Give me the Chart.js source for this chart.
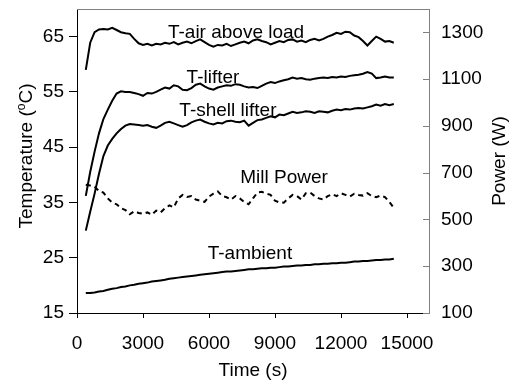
<!DOCTYPE html>
<html>
<head>
<meta charset="utf-8">
<script src="https://cdn.jsdelivr.net/npm/chart.js@4.4.0/dist/chart.umd.min.js"></script>
<style>
  html, body { margin: 0; padding: 0; background: #fff; }
  #wrap { width: 522px; height: 386px; }
</style>
</head>
<body>
<div id="wrap"><canvas id="chart" width="522" height="386"></canvas></div>
<script>
// time (s)
const times = [400, 600, 800, 1000, 1200, 1400, 1600, 1800, 2000, 2200, 2400, 2600, 2800, 3000,
  3200, 3400, 3600, 3800, 4000, 4200, 4400, 4600, 4800, 5000, 5200, 5400, 5600, 5800, 6000,
  6200, 6400, 6600, 6800, 7000, 7200, 7400, 7600, 7800, 8000, 8200, 8400, 8600, 8800, 9000,
  9200, 9400, 9600, 9800, 10000, 10200, 10400, 10600, 10800, 11000, 11200, 11400, 11600, 11800,
  12000, 12200, 12400, 12600, 12800, 13000, 13200, 13400, 13600, 13800, 14000, 14200, 14400];

// temperatures (C)
const tAirAboveLoad = [59.0, 63.9, 65.8, 66.3, 66.4, 66.3, 66.6, 66.2, 65.8, 65.6, 65.5, 64.6, 63.8, 63.5,
  63.7, 63.4, 63.7, 63.6, 63.9, 63.7, 64.0, 63.6, 63.9, 64.1, 63.8, 64.2, 64.5, 64.0, 63.5,
  63.2, 63.5, 63.4, 63.7, 63.3, 63.6, 63.9, 64.1, 63.8, 64.3, 64.5, 64.2, 64.0, 63.6, 63.9,
  64.2, 64.0, 64.4, 64.5, 64.1, 64.3, 64.0, 64.4, 64.6, 64.3, 64.6, 65.0, 65.3, 65.7,
  65.5, 65.9, 65.8, 65.2, 64.9, 64.2, 63.4, 64.2, 65.0, 64.6, 64.1, 64.2, 63.9];

const tLifter = [36.2, 40.5, 44.2, 47.5, 50.1, 51.8, 53.4, 54.7, 55.1, 55.0, 55.0, 54.8, 54.6, 54.3,
  54.8, 54.7, 55.0, 55.4, 55.8, 55.6, 56.2, 56.0, 55.4, 55.3, 55.7, 56.3, 56.5, 56.0, 55.6,
  55.4, 55.8, 56.0, 56.2, 56.1, 56.4, 56.3, 56.0, 55.8, 55.9, 55.7, 56.1, 56.5, 56.8, 56.6,
  56.9, 57.1, 57.3, 57.6, 57.4, 57.5, 57.3, 57.2, 57.4, 57.5, 57.6, 57.5, 57.7, 57.6,
  57.8, 57.7, 57.9, 58.0, 58.1, 58.3, 58.6, 58.3, 57.5, 57.6, 57.8, 57.6, 57.6];

const tShellLifter = [29.9, 33.3, 36.6, 40.2, 43.4, 45.3, 46.5, 47.5, 48.3, 48.9, 49.2, 49.1, 49.0, 48.9,
  49.0, 48.7, 48.5, 48.9, 49.4, 49.6, 49.3, 49.0, 48.7, 49.0, 49.5, 49.8, 50.0, 49.6, 49.3,
  49.1, 49.4, 49.3, 49.7, 49.8, 49.6, 49.5, 49.8, 48.9, 49.4, 49.9, 50.0, 50.3, 50.6, 50.4,
  50.9, 50.8, 51.1, 51.4, 51.2, 51.3, 51.5, 51.4, 51.2, 51.5, 51.4, 51.3, 51.6, 51.8,
  51.7, 51.9, 51.8, 52.0, 52.1, 52.0, 52.2, 52.4, 52.7, 52.5, 52.8, 52.6, 52.8];

const tAmbient = [18.6, 18.6, 18.7, 18.9, 19.0, 19.2, 19.4, 19.5, 19.7, 19.8, 20.0, 20.1, 20.3, 20.4,
  20.5, 20.7, 20.8, 20.9, 21.0, 21.2, 21.3, 21.4, 21.5, 21.6, 21.7, 21.8, 21.9, 22.0, 22.1,
  22.2, 22.3, 22.4, 22.5, 22.5, 22.6, 22.7, 22.8, 22.9, 22.9, 23.0, 23.1, 23.1, 23.2, 23.2,
  23.3, 23.4, 23.4, 23.5, 23.6, 23.6, 23.7, 23.7, 23.8, 23.8, 23.9, 23.9, 24.0, 24.0,
  24.1, 24.1, 24.2, 24.3, 24.3, 24.4, 24.4, 24.5, 24.6, 24.6, 24.7, 24.7, 24.8];

// mill power (W), right axis
const millPower = [648, 645, 640, 622, 615, 590, 572, 565, 548, 540, 522, 535, 528, 524,
  530, 520, 538, 530, 548, 560, 552, 590, 605, 596, 600, 585, 580, 575, 598,
  610, 620, 600, 595, 585, 600, 590, 575, 565, 590, 615, 618, 610, 605, 580,
  573, 572, 590, 605, 600, 585, 612, 615, 600, 590, 585, 600, 608, 600,
  612, 605, 598, 610, 605, 602, 612, 600, 595, 602, 596, 575, 550];

// tick values
const xTicks = [0, 3000, 6000, 9000, 12000, 15000];
const tempTicks = [15, 25, 35, 45, 55, 65];
const powerTicks = [100, 300, 500, 700, 900, 1100, 1300];

// in-plot labels: [text, time, temperature]
const seriesLabels = [
  ['T-air above load', 7230, 64.8],
  ['T-lifter', 6180, 56.7],
  ['T-shell lifter', 6860, 50.7],
  ['Mill Power', 9410, 38.55],
  ['T-ambient', 7860, 24.8]
];

const FONT = "'Liberation Sans', Arial, sans-serif";
const FSIZE = 19;

function pts(ys) {
  return times.map((t, i) => ({ x: t, y: ys[i] }));
}

function lineSet(ys, axis, dash) {
  return {
    data: pts(ys),
    yAxisID: axis,
    borderColor: '#000',
    borderWidth: 2,
    borderDash: dash || [],
    pointRadius: 0,
    tension: 0,
    fill: false
  };
}

const framePlugin = {
  id: 'frame',
  afterDraw(chart) {
    const ctx = chart.ctx;
    const a = chart.chartArea;
    const y2 = chart.scales.y2;
    ctx.save();
    ctx.strokeStyle = '#808080';
    ctx.lineWidth = 1;
    ctx.beginPath();
    ctx.moveTo(a.left, a.top + 0.5);
    ctx.lineTo(a.right + 0.5, a.top + 0.5);
    ctx.lineTo(a.right + 0.5, a.bottom);
    ctx.stroke();
    // inward ticks on the power axis
    ctx.beginPath();
    powerTicks.forEach(v => {
      const py = Math.round(y2.getPixelForValue(v)) + 0.5;
      ctx.moveTo(a.right - 6, py);
      ctx.lineTo(a.right + 1, py);
    });
    ctx.stroke();

    ctx.fillStyle = '#000';
    ctx.font = FSIZE + 'px ' + FONT;
    ctx.textBaseline = 'alphabetic';
    // series labels
    ctx.textAlign = 'center';
    seriesLabels.forEach(([txt, t, v]) => {
      ctx.fillText(txt, chart.scales.x.getPixelForValue(t), chart.scales.y.getPixelForValue(v));
    });

    // left axis title with superscript o
    const cy = (a.top + a.bottom) / 2 - 5;
    ctx.save();
    ctx.translate(32, cy);
    ctx.rotate(-Math.PI / 2);
    const p1 = 'Temperature (', p3 = 'C)';
    ctx.font = FSIZE + 'px ' + FONT;
    const w1 = ctx.measureText(p1).width, w3 = ctx.measureText(p3).width;
    ctx.font = Math.round(FSIZE * 0.62) + 'px ' + FONT;
    const w2 = ctx.measureText('o').width;
    let x0 = -(w1 + w2 + w3) / 2;
    ctx.textAlign = 'left';
    ctx.font = FSIZE + 'px ' + FONT;
    ctx.fillText(p1, x0, 0);
    ctx.font = Math.round(FSIZE * 0.62) + 'px ' + FONT;
    ctx.fillText('o', x0 + w1, -7);
    ctx.font = FSIZE + 'px ' + FONT;
    ctx.fillText(p3, x0 + w1 + w2, 0);
    ctx.restore();

    // right axis title, reading bottom to top
    ctx.save();
    ctx.translate(500, (a.top + a.bottom) / 2);
    ctx.rotate(-Math.PI / 2);
    ctx.textAlign = 'center';
    ctx.textBaseline = 'middle';
    ctx.fillText('Power (W)', 0, 0);
    ctx.restore();
    ctx.restore();
  }
};

const tickFont = { family: FONT, size: FSIZE };
const plain = v => String(v);

new Chart(document.getElementById('chart').getContext('2d'), {
  type: 'line',
  data: {
    datasets: [
      lineSet(tAirAboveLoad, 'y'),
      lineSet(tLifter, 'y'),
      lineSet(tShellLifter, 'y'),
      lineSet(tAmbient, 'y'),
      lineSet(millPower, 'y2', [5, 4])
    ]
  },
  options: {
    responsive: false,
    animation: false,
    layout: { padding: { top: 9, left: 0, right: 0, bottom: 0 } },
    plugins: { legend: { display: false }, tooltip: { enabled: false } },
    scales: {
      x: {
        type: 'linear',
        min: 0,
        max: 16000,
        afterBuildTicks: s => { s.ticks = xTicks.map(v => ({ value: v })); },
        afterFit: s => { s.height = 73; s.paddingLeft = 0; s.paddingRight = 0; },
        border: { color: '#000', width: 1 },
        grid: { drawOnChartArea: false, drawTicks: true, tickLength: 5, color: '#000' },
        ticks: { color: '#000', font: tickFont, padding: 14, maxRotation: 0, callback: plain },
        title: { display: true, text: 'Time (s)', color: '#000', font: tickFont, padding: { top: 0, bottom: 4 } }
      },
      y: {
        position: 'left',
        min: 15,
        max: 70,
        afterBuildTicks: s => { s.ticks = tempTicks.map(v => ({ value: v })); },
        afterFit: s => { s.width = 77; s.paddingTop = 0; s.paddingBottom = 0; },
        border: { color: '#000', width: 1 },
        grid: { drawOnChartArea: false, drawTicks: true, tickLength: 8, color: '#000' },
        ticks: { color: '#000', font: tickFont, padding: 5, callback: plain }
      },
      y2: {
        position: 'right',
        min: 100,
        max: 1400,
        afterBuildTicks: s => { s.ticks = powerTicks.map(v => ({ value: v })); },
        afterFit: s => { s.width = 93; s.paddingTop = 0; s.paddingBottom = 0; },
        border: { color: '#808080', width: 1 },
        grid: { drawOnChartArea: false, drawTicks: false },
        ticks: { color: '#000', font: tickFont, padding: 12, callback: plain }
      }
    }
  },
  plugins: [framePlugin]
});
</script>
</body>
</html>
